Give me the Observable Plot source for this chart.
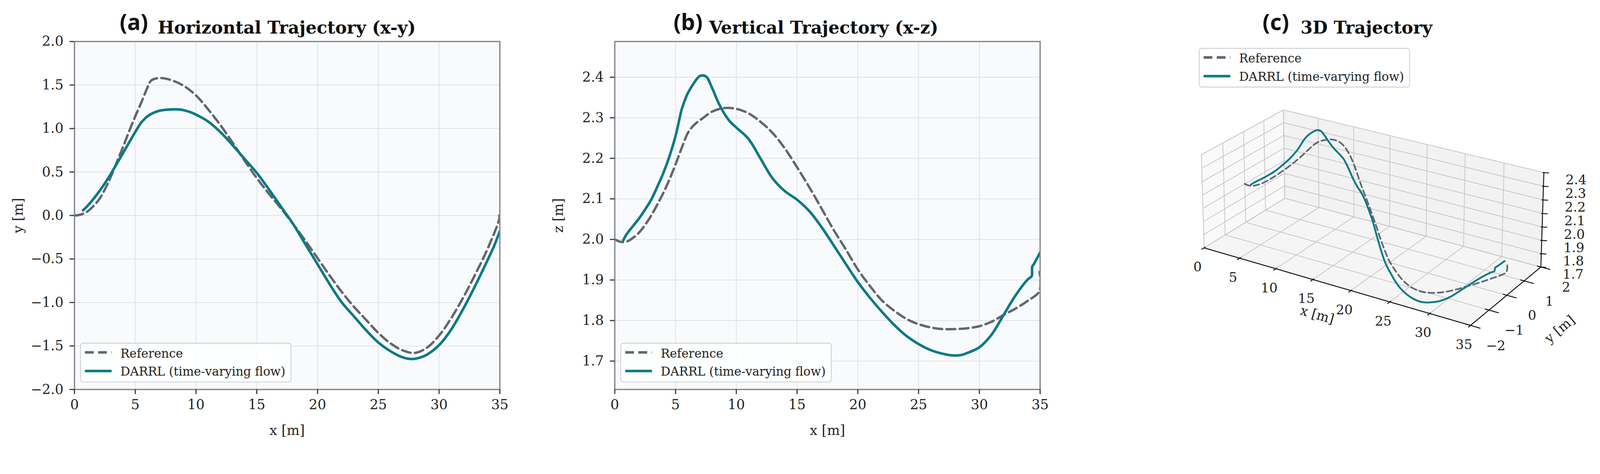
<!DOCTYPE html>
<html>
<head>
<meta charset="utf-8">
<script src="https://cdn.jsdelivr.net/npm/d3@7"></script>
<script src="https://cdn.jsdelivr.net/npm/@observablehq/plot@0.6"></script>
<style>
  html, body { margin: 0; padding: 0; background: #fff; overflow: hidden; }
  #page { position: relative; width: 4371px; height: 1214px; overflow: hidden; background: #fff; transform-origin: 0 0; }
  .panel { position: absolute; top: 0; }
  .serif { font-family: "DejaVu Serif", serif; }
  .title { position: absolute; line-height: 1; white-space: nowrap; color: #111; }
  .tag { font-family: "Noto Sans", "Open Sans", sans-serif; font-weight: 700; font-size: 60px; }
  .ttext { font-weight: 700; font-size: 48px; }
  .legend { position: absolute; box-sizing: border-box; border: 2px solid #c5cad0; border-radius: 8px; background: rgba(255,255,255,0.85); }
  .legend svg { position: absolute; left: 0; top: 0; }
  .legend .lt { position: absolute; left: 108px; font-size: 34px; line-height: 1; white-space: nowrap; color: #222; }
</style>
</head>
<body>
<div id="page"></div>
<script>
// ---------------- data ----------------
const refX = [0,0.5,1,1.5,2,2.5,3,3.5,4,4.5,5,5.5,6,6.3,6.7,7.2,8,9,10,11,12,13,14,15,16,17,18,19,20,21,22,23,24,25,26,27,28,29,30,31,32,33,34,34.95,34.95];
const refY = [0,0.01,0.04,0.10,0.18,0.30,0.45,0.62,0.79,0.97,1.14,1.30,1.47,1.55,1.575,1.58,1.555,1.49,1.38,1.22,1.04,0.84,0.63,0.43,0.25,0.08,-0.10,-0.29,-0.49,-0.69,-0.88,-1.05,-1.20,-1.35,-1.47,-1.55,-1.58,-1.52,-1.38,-1.18,-0.94,-0.67,-0.38,-0.04,0.0];
const refZ = [2.0,1.994,1.995,2.004,2.017,2.036,2.059,2.086,2.115,2.148,2.185,2.225,2.262,2.275,2.287,2.298,2.315,2.324,2.322,2.311,2.29,2.262,2.224,2.178,2.129,2.077,2.024,1.976,1.926,1.885,1.849,1.824,1.804,1.791,1.783,1.779,1.779,1.781,1.786,1.797,1.814,1.83,1.849,1.873,1.92];

const darX = [0.7,1,1.5,2,2.5,3,3.5,4,4.5,5,5.5,5.7,6,6.5,7,7.5,8,8.5,9,9.5,10,11,12,13,14,15,16,17,18,19,20,21,22,23,24,25,26,27,27.8,28.5,29,30,31,32,33,34,34.3,34.35,34.5,35];
const darY = [0.06,0.10,0.18,0.27,0.37,0.48,0.60,0.72,0.84,0.96,1.07,1.10,1.14,1.18,1.205,1.215,1.22,1.22,1.21,1.19,1.16,1.08,0.96,0.81,0.65,0.49,0.30,0.10,-0.10,-0.33,-0.56,-0.79,-1.00,-1.16,-1.32,-1.46,-1.56,-1.63,-1.65,-1.63,-1.60,-1.49,-1.31,-1.07,-0.80,-0.51,-0.42,-0.405,-0.36,-0.18];
const darZ = [1.998,2.014,2.033,2.052,2.074,2.098,2.13,2.164,2.205,2.255,2.32,2.338,2.36,2.385,2.403,2.402,2.374,2.339,2.311,2.29,2.276,2.248,2.199,2.15,2.119,2.098,2.07,2.031,1.986,1.94,1.895,1.856,1.821,1.789,1.762,1.742,1.727,1.718,1.714,1.715,1.72,1.734,1.765,1.814,1.863,1.902,1.909,1.933,1.94,1.968];

const xTicks = [0,5,10,15,20,25,30,35];
const yTicksA = [-2.0,-1.5,-1.0,-0.5,0.0,0.5,1.0,1.5,2.0];
const zTicksB = [1.7,1.8,1.9,2.0,2.1,2.2,2.3,2.4];
const yTicks3 = [-2,-1,0,1,2];
const zTicks3 = [1.7,1.8,1.9,2.0,2.1,2.2,2.3,2.4];

const seriesNames = ["Reference", "DARRL (time-varying flow)"];
const titles = [["(a)", "Horizontal Trajectory (x-y)"], ["(b)", "Vertical Trajectory (x-z)"], ["(c)", "3D Trajectory"]];

// ---------------- styles ----------------
const FONT = '"DejaVu Serif", serif';
const REF_COLOR = "#62676d";
const DAR_COLOR = "#0b7a85";
const GRID = "#dde1e6";
const SPINE = "#80868e";

const ref = refX.map((x, i) => ({x, y: refY[i], z: refZ[i]}));
const dar = darX.map((x, i) => ({x, y: darY[i], z: darZ[i]}));

const page = document.getElementById("page");
// fit the 4371x1214 layout into the actual viewport
{
  const vw = document.documentElement.clientWidth || window.innerWidth;
  const vh = document.documentElement.clientHeight || window.innerHeight;
  const s = Math.min(1, vw / 4371, vh / 1214);
  if (s < 0.999) page.style.transform = `scale(${s})`;
}

function addPanel(node, left) {
  const d = document.createElement("div");
  d.className = "panel";
  d.style.left = left + "px";
  d.appendChild(node);
  page.appendChild(d);
}

// fit a text element's font size to a target width
function fitSize(el, base, target) {
  const w = el.offsetWidth;
  return w > 0 ? base * target / w : base;
}

const tagEls = [], textEls = [];
function addTitle(tag, text, tagLeft, textLeft) {
  const a = document.createElement("div");
  a.className = "title tag";
  a.textContent = tag;
  a.style.left = tagLeft + "px";
  page.appendChild(a);
  const b = document.createElement("div");
  b.className = "title ttext serif";
  b.textContent = text;
  b.style.left = textLeft + "px";
  page.appendChild(b);
  tagEls.push(a); textEls.push(b);
}

const legendTexts = [];
function addLegend(left, top) {
  const L = document.createElement("div");
  L.className = "legend serif";
  L.style.left = left + "px";
  L.style.top = top + "px";
  L.style.width = "577px";
  L.style.height = "108px";
  L.innerHTML = `<svg width="573" height="104">
      <line x1="11" x2="84" y1="24" y2="24" stroke="${REF_COLOR}" stroke-width="7" stroke-dasharray="24,12"/>
      <line x1="11" x2="84" y1="75" y2="75" stroke="${DAR_COLOR}" stroke-width="7"/>
    </svg>
    <div class="lt">${seriesNames[0]}</div>
    <div class="lt">${seriesNames[1]}</div>`;
  page.appendChild(L);
  legendTexts.push(...L.querySelectorAll(".lt"));
}

const fmt1 = d3.format(".1f");

function panel2D(yKey, yDomain, yTicks, yLabel) {
  return Plot.plot({
    width: 1400, height: 1214,
    marginLeft: 203, marginRight: 35, marginTop: 113, marginBottom: 150,
    style: {fontFamily: FONT, fontSize: "37px", background: "transparent", color: "#222", overflow: "visible"},
    x: {domain: [0, 35]},
    y: {domain: yDomain},
    marks: [
      Plot.frame({fill: "#f9fafc", stroke: null}),
      Plot.gridX(xTicks, {stroke: GRID, strokeOpacity: 1, strokeWidth: 2}),
      Plot.gridY(yTicks, {stroke: GRID, strokeOpacity: 1, strokeWidth: 2}),
      Plot.line(ref, {x: "x", y: yKey, stroke: REF_COLOR, strokeWidth: 6.5, strokeDasharray: "24,12", curve: "catmull-rom", clip: true}),
      Plot.line(dar, {x: "x", y: yKey, stroke: DAR_COLOR, strokeWidth: 7, curve: "catmull-rom", clip: true}),
      Plot.frame({stroke: SPINE, strokeWidth: 3.5}),
      Plot.axisX(xTicks, {tickSize: 13, tickPadding: 15, strokeWidth: 3, stroke: "#333", tickFormat: d => String(d),
        label: "x [m]", labelAnchor: "center", labelArrow: "none", labelOffset: 124}),
      Plot.axisY(yTicks, {tickSize: 13, tickPadding: 17, strokeWidth: 3, stroke: "#333", tickFormat: fmt1,
        label: yLabel, labelAnchor: "center", labelArrow: "none", labelOffset: 168})
    ]
  });
}

// Panel (a)
addPanel(panel2D("y", [-2, 2], yTicksA, "y [m]"), 0);
// Panel (b)
addPanel(panel2D("z", [1.63, 2.488], zTicksB, "z [m]"), 1476);

// ---------------- Panel (c): 3D projection ----------------
// camera calibration: box corners / tick anchors in page pixels
const cameraAnchors = [
  [0,-2,1.7, 3290,678],[35,-2,1.7, 4016,888],[35,2,1.7, 4207,731],[0,2,1.7, 3510,542],
  [0,-2,2.4, 3280,423],[35,2,2.4, 4217,474],[0,2,2.4, 3505,300],
  [5,-2,1.7, 3386,705],[10,-2,1.7, 3484,735],[15,-2,1.7, 3586,764],[20,-2,1.7, 3690,793],[25,-2,1.7, 3796,824],[30,-2,1.7, 3903,856],
  [5,2,2.4, 3600,322],[10,2,2.4, 3697,345],[15,2,2.4, 3797,368],
  [35,-1,1.7, 4071,847],[35,0,1.7, 4117,806],[35,1,1.7, 4164,766],
  [0,-1,2.4, 3342,390],[0,0,2.4, 3397,360],[0,1,2.4, 3453,330],
  [0,-1,1.7, 3346,642],[0,0,1.7, 3403,607],[0,1,1.7, 3456,573]
];
const nx = X => X / 35, ny = Y => (Y + 2) / 4, nz = Z => (Z - 1.7) / 0.7;
function solveLinear(A, b) {
  const n = b.length;
  const M = A.map((r, i) => [...r, b[i]]);
  for (let c = 0; c < n; c++) {
    let p = c;
    for (let r = c + 1; r < n; r++) if (Math.abs(M[r][c]) > Math.abs(M[p][c])) p = r;
    [M[c], M[p]] = [M[p], M[c]];
    for (let r = 0; r < n; r++) {
      if (r === c) continue;
      const f = M[r][c] / M[c][c];
      for (let k = c; k <= n; k++) M[r][k] -= f * M[c][k];
    }
  }
  return M.map((r, i) => r[n] / r[i]);
}
const cam = (() => {
  const n = 11;
  const N = Array.from({length: n}, () => Array(n).fill(0));
  const rhs = Array(n).fill(0);
  const add = (row, val) => {
    for (let i = 0; i < n; i++) { for (let j = 0; j < n; j++) N[i][j] += row[i] * row[j]; rhs[i] += row[i] * val; }
  };
  for (const [X, Y, Z, u, v] of cameraAnchors) {
    const x = nx(X), y = ny(Y), z = nz(Z), uu = (u - 3700) / 500, vv = (v - 600) / 500;
    add([x, y, z, 1, 0, 0, 0, 0, -uu * x, -uu * y, -uu * z], uu);
    add([0, 0, 0, 0, x, y, z, 1, -vv * x, -vv * y, -vv * z], vv);
  }
  return solveLinear(N, rhs);
})();
const C_LEFT = 3000;
function proj(X, Y, Z) {
  const x = nx(X), y = ny(Y), z = nz(Z);
  const w = cam[8] * x + cam[9] * y + cam[10] * z + 1;
  const u = (cam[0] * x + cam[1] * y + cam[2] * z + cam[3]) / w;
  const v = (cam[4] * x + cam[5] * y + cam[6] * z + cam[7]) / w;
  return [u * 500 + 3700 - C_LEFT, v * 500 + 600];
}
const X0 = 0, X1 = 35, Y0 = -2, Y1 = 2, Z0 = 1.7, Z1 = 2.4;

const panes = [
  {fill: "#f9f9f9", pts: [[X0,Y0,Z0],[X0,Y1,Z0],[X0,Y1,Z1],[X0,Y0,Z1],[X0,Y0,Z0]]},
  {fill: "#f2f2f2", pts: [[X0,Y1,Z0],[X1,Y1,Z0],[X1,Y1,Z1],[X0,Y1,Z1],[X0,Y1,Z0]]},
  {fill: "#f5f5f5", pts: [[X0,Y0,Z0],[X1,Y0,Z0],[X1,Y1,Z0],[X0,Y1,Z0],[X0,Y0,Z0]]}
];
const paneRows = panes.flatMap((p, k) => p.pts.map(q => ({k, fill: p.fill, q})));

const grid3 = [
  ...xTicks.map(t => [[t,Y0,Z0],[t,Y1,Z0]]),
  ...yTicks3.map(t => [[X0,t,Z0],[X1,t,Z0]]),
  ...xTicks.map(t => [[t,Y1,Z0],[t,Y1,Z1]]),
  ...zTicks3.map(t => [[X0,Y1,t],[X1,Y1,t]]),
  ...yTicks3.map(t => [[X0,t,Z0],[X0,t,Z1]]),
  ...zTicks3.map(t => [[X0,Y0,t],[X0,Y1,t]])
];
const axes3 = [
  [[X0,Y0,Z0],[X1,Y0,Z0]],
  [[X1,Y0,Z0],[X1,Y1,Z0]],
  [[X1,Y1,Z0],[X1,Y1,Z1]]
];
const ticks3 = [
  ...xTicks.map(t => [[t,Y0+0.06,Z0],[t,Y0-0.12,Z0]]),
  ...yTicks3.map(t => [[X1-0.5,t,Z0],[X1+1.2,t,Z0]])
];
const P = (a, i) => proj(...a)[i];

const labels3 = [
  ...xTicks.map(t => ({p: [t,Y0,Z0], dx: -18, dy: 53, text: String(t), rotate: 0})),
  ...yTicks3.map(t => ({p: [X1,t,Z0], dx: 69, dy: 56, text: d3.format("d")(t), rotate: 0})),
  ...zTicks3.map(t => ({p: [X1,Y1,t], dx: 88, dy: 21, text: fmt1(t), rotate: 0})),
  {p: [17.5,Y0,Z0], dx: -40, dy: 82, text: "x [m]", rotate: 16},
  {p: [X1,0,Z0], dx: 145, dy: 93, text: "y [m]", rotate: -40}
];

const plotC = Plot.plot({
  width: 1371, height: 1214,
  margin: 0,
  axis: null,
  style: {fontFamily: FONT, fontSize: "36px", background: "transparent", color: "#222", overflow: "visible"},
  x: {type: "identity"},
  y: {type: "identity"},
  marks: [
    Plot.line(paneRows, {x: d => P(d.q, 0), y: d => P(d.q, 1), z: "k", fill: "fill", stroke: "#e9e9e9", strokeWidth: 2}),
    Plot.link(grid3, {x1: s => P(s[0], 0), y1: s => P(s[0], 1), x2: s => P(s[1], 0), y2: s => P(s[1], 1), stroke: "#c6c6c6", strokeWidth: 2}),
    Plot.link(axes3, {x1: s => P(s[0], 0), y1: s => P(s[0], 1), x2: s => P(s[1], 0), y2: s => P(s[1], 1), stroke: "#111", strokeWidth: 2.5}),
    Plot.link(ticks3, {x1: s => P(s[0], 0), y1: s => P(s[0], 1), x2: s => P(s[1], 0), y2: s => P(s[1], 1), stroke: "#111", strokeWidth: 2.5}),
    Plot.link(zTicks3, {x1: t => P([X1,Y1,t], 0) - 4, y1: t => P([X1,Y1,t], 1), x2: t => P([X1,Y1,t], 0) + 14, y2: t => P([X1,Y1,t], 1) + 1, stroke: "#111", strokeWidth: 2.5}),
    Plot.text(labels3, {x: d => P(d.p, 0) + d.dx, y: d => P(d.p, 1) + d.dy, text: "text", rotate: "rotate", fill: "#222", textAnchor: "middle", lineAnchor: "middle", fontSize: 36}),
    Plot.line(ref, {x: d => P([d.x, d.y, d.z], 0), y: d => P([d.x, d.y, d.z], 1), stroke: REF_COLOR, strokeWidth: 4.5, strokeDasharray: "16,9", curve: "catmull-rom"}),
    Plot.line(dar, {x: d => P([d.x, d.y, d.z], 0), y: d => P([d.x, d.y, d.z], 1), stroke: DAR_COLOR, strokeWidth: 5, curve: "catmull-rom"})
  ]
});
addPanel(plotC, C_LEFT);

// titles & legends
addTitle(titles[0][0], titles[0][1], 327, 431);
addTitle(titles[1][0], titles[1][1], 1840, 1937);
addTitle(titles[2][0], titles[2][1], 3449, 3553);
addLegend(219, 937);
addLegend(1695, 937);
addLegend(3275, 131);

// size titles and legend text to the reference's measured widths, then place baselines
{
  const tagSize = fitSize(tagEls[0], 60, 78);
  const textSize = fitSize(textEls[0], 48, 705);
  tagEls.forEach(el => { el.style.fontSize = tagSize + "px"; el.style.top = (83 - 0.888 * tagSize) + "px"; });
  textEls.forEach(el => { el.style.fontSize = textSize + "px"; el.style.top = (92 - 0.846 * textSize) + "px"; });
  const legSize = fitSize(legendTexts[1], 34, 451);
  legendTexts.forEach((el, i) => {
    el.style.fontSize = legSize + "px";
    el.style.top = ((i % 2 ? 88 : 38) - 0.846 * legSize) + "px";
  });
}
</script>
</body>
</html>
